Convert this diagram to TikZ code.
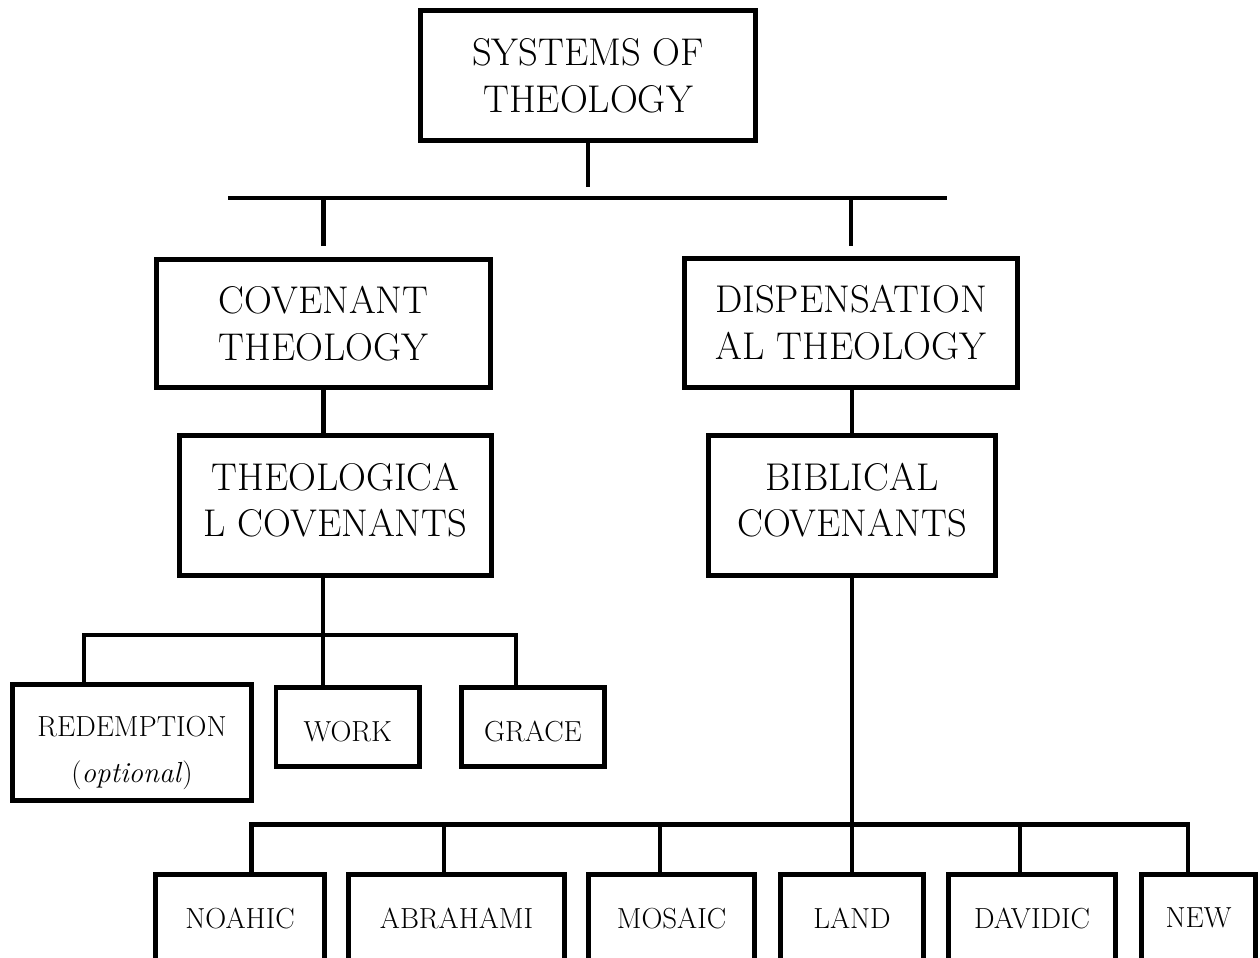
\documentclass[tikz,border=0pt]{standalone}
\begin{document}
\begin{tikzpicture}[x=0.02cm, y=-0.02cm, line join=miter,
    box/.style={draw, line width=2.8pt, align=center, inner sep=0pt},
    big/.style={font=\fontsize{22}{26.6}\selectfont},
    small/.style={font=\fontsize{16.5}{19.5}\selectfont},
    wh/.style 2 args={minimum width=#1*0.02cm, minimum height=#2*0.02cm},
    link/.style={line width=2.8pt}]
        \def\xmax{1260} \def\ymax{957}
        \useasboundingbox (0,0) rectangle (\xmax,\ymax);
        \clip (0,0) rectangle (\xmax,\ymax);
        %Upper boxes
        \node[box,big,wh={335}{130}] (systems) at (588,75.5) {SYSTEMS OF\\THEOLOGY};
        \node[box,big,wh={334}{128}] (covenant) at (323.5,323.5) {COVENANT\\THEOLOGY};
        \node[box,big,wh={333}{129}] (dispens) at (851,323) {DISPENSATION\\AL THEOLOGY};
        \node[box,big,wh={312}{140}] (theolcov) at (335.5,505.5) {THEOLOGICA\\L COVENANTS\rule[-6.6pt]{0pt}{0pt}};
        \node[box,big,wh={287}{140}] (biblcov) at (852,505.5) {BIBLICAL\\COVENANTS\rule[-6.6pt]{0pt}{0pt}};
        %Theological covenants
        \node[box,small,wh={239}{116.6}] (redempt) at (132,742.5) {\rule{0pt}{23.5pt}REDEMPTION\\[7pt](\textit{optional})};
        \node[box,small,wh={143.5}{79}] (work) at (347.75,727) {\rule{0pt}{17pt}WORK};
        \node[box,small,wh={143}{79}] (grace) at (533,727) {\rule{0pt}{17pt}GRACE};
        %Biblical covenants
        \foreach \n/\x/\w/\t in {noahic/240/169/NOAHIC, abrahami/456.5/216/ABRAHAMI,
            mosaic/671.5/166/MOSAIC, land/852/143/LAND, davidic/1032/167/DAVIDIC, new/1198.5/114/NEW}
            \node[box,small,wh={\w}{87}] (\n) at (\x,918) {\t};
        %Connectors
        \coordinate (jA) at (588,198);
        \coordinate (jAl) at (228,198);
        \coordinate (jAr) at (947,198);
        \draw[link] (systems.south) -- ++(0,44);
        \draw[link] (jAl) -- (jAr);
        \draw[link] (covenant.north |- jA) -- ++(0,48);
        \draw[link] (dispens.north |- jA) -- ++(0,48);
        \draw[link] (covenant.south) -- (covenant.south |- theolcov.north);
        \draw[link] (biblcov.north |- dispens.south) -- (biblcov.north);
        \coordinate (jB) at (323,635);
        \coordinate (jBl) at (84,635);
        \coordinate (jBr) at (516,635);
        \draw[link] (theolcov.south -| jB) -- (work.north -| jB);
        \draw[link] (redempt.north -| jBl) -- (jBl) -- (jBr) -- (grace.north -| jBr);
        \coordinate (jCl) at (251.5,824.5);
        \coordinate (jCr) at (1188,824.5);
        \draw[link] (biblcov.south) -- (land.north);
        \draw[link] (noahic.north -| jCl) -- (jCl) -- (jCr) -- (new.north -| jCr);
        \foreach \n/\x in {abrahami/444, mosaic/660, davidic/1020}
            \draw[link] (\x,824.5) -- (\n.north -| \x,824.5);
\end{tikzpicture}
\end{document}
